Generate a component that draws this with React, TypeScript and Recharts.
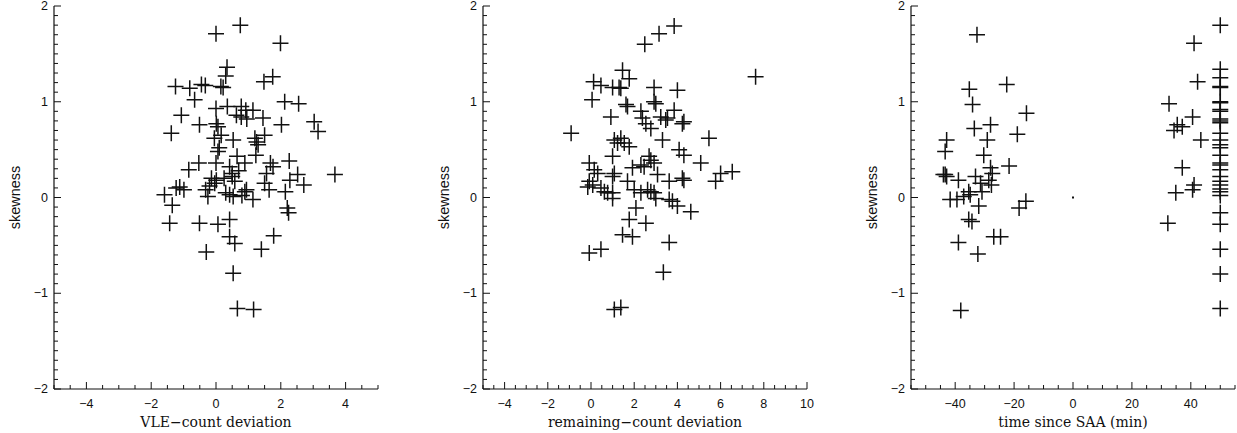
import { ScatterChart, Scatter, XAxis, YAxis } from 'recharts';

// skewness vs VLE-count deviation
const vlePoints: [number, number][] = [
  [0.75, 1.8], [0.0, 1.71], [1.99, 1.61], [0.34, 1.36], [0.3, 1.27], [1.75, 1.26], [1.48, 1.21],
  [-1.25, 1.16], [-0.81, 1.14], [-0.45, 1.18], [-0.33, 1.17], [0.15, 1.16], [0.22, 1.15],
  [-0.66, 1.02], [2.12, 1.0], [2.55, 0.98], [0.0, 0.93], [0.35, 0.95], [0.78, 0.95], [0.92, 0.91],
  [1.14, 0.91], [-1.07, 0.86], [0.63, 0.86], [0.78, 0.84], [1.45, 0.83], [3.03, 0.79], [3.15, 0.69],
  [2.02, 0.76], [-0.51, 0.76], [0.01, 0.77], [0.06, 0.74], [-1.38, 0.67], [0.16, 0.65], [0.53, 0.6],
  [1.5, 0.65], [1.25, 0.58], [1.3, 0.55], [0.06, 0.48], [1.23, 0.44], [0.65, 0.43], [0.89, 0.36],
  [1.68, 0.36], [1.76, 0.32], [2.26, 0.38], [0.0, 0.36], [-0.53, 0.36], [-0.84, 0.29], [0.42, 0.32],
  [3.67, 0.24], [2.52, 0.24], [2.71, 0.13], [2.28, 0.18], [1.56, 0.25], [1.5, 0.15], [-0.14, 0.2],
  [0.01, 0.18], [-0.04, 0.15], [0.5, 0.22], [0.58, 0.17], [-1.12, 0.11], [-0.99, 0.08], [-1.23, 0.1],
  [-1.59, 0.03], [-1.35, -0.08], [-0.32, 0.08], [-0.25, 0.01], [0.42, 0.03], [0.53, 0.01], [0.89, 0.06],
  [0.94, 0.08], [1.14, -0.02], [1.64, 0.08], [2.14, 0.06], [2.2, -0.11], [2.24, -0.16], [-1.43, -0.27],
  [-0.51, -0.27], [0.06, -0.28], [0.42, -0.23], [0.42, -0.41], [0.58, -0.48], [1.78, -0.4], [1.4, -0.54],
  [-0.3, -0.57], [0.53, -0.79], [0.66, -1.16], [1.16, -1.17], [0.3, 0.05], [0.1, 0.52], [0.8, 0.02],
  [1.2, 0.62], [0.5, 0.25], [-0.2, 0.12], [0.95, 0.82], [-0.05, 0.62], [0.7, 0.28], [0.25, 0.2],
];

// skewness vs remaining-count deviation
const remPoints: [number, number][] = [
  [3.85, 1.79], [3.15, 1.71], [2.49, 1.6], [1.46, 1.33], [1.77, 1.24], [0.12, 1.21], [0.46, 1.17],
  [1.0, 1.15], [1.3, 1.15], [1.38, 1.14], [2.92, 1.15], [4.0, 1.12], [0.05, 1.02], [2.92, 1.0],
  [3.0, 0.98], [1.62, 0.97], [1.69, 0.95], [2.31, 0.9], [3.85, 0.91], [0.92, 0.84], [2.38, 0.83],
  [2.54, 0.77], [3.23, 0.84], [3.54, 0.83], [3.46, 0.81], [4.23, 0.77], [4.3, 0.79], [2.77, 0.72],
  [-0.92, 0.67], [3.31, 0.6], [5.46, 0.62], [1.08, 0.6], [1.38, 0.62], [1.54, 0.57], [1.23, 0.57],
  [1.77, 0.53], [4.08, 0.5], [4.3, 0.44], [1.0, 0.43], [2.69, 0.43], [2.77, 0.39], [2.92, 0.36],
  [5.08, 0.36], [-0.08, 0.36], [2.31, 0.34], [2.46, 0.32], [1.92, 0.31], [0.15, 0.29], [0.31, 0.25],
  [6.54, 0.27], [6.0, 0.25], [5.77, 0.17], [1.08, 0.25], [1.0, 0.22], [4.23, 0.2], [4.3, 0.18],
  [3.62, 0.17], [3.08, 0.24], [1.69, 0.17], [-0.08, 0.17], [-0.15, 0.11], [0.08, 0.13], [0.46, 0.1],
  [0.62, 0.06], [0.77, 0.05], [1.0, 0.05], [2.62, 0.08], [2.77, 0.06], [2.92, 0.05], [2.0, 0.08],
  [2.31, 0.05], [3.0, -0.01], [3.62, -0.02], [3.77, -0.04], [1.0, -0.01], [4.0, -0.09], [2.08, -0.11],
  [4.62, -0.15], [1.77, -0.23], [2.54, -0.27], [1.46, -0.39], [1.92, -0.41], [3.62, -0.47],
  [-0.08, -0.58], [0.46, -0.54], [3.35, -0.78], [1.08, -1.17], [1.38, -1.15], [7.62, 1.26],
];

// skewness vs time since SAA (minutes); unknown times sit at 50
const saaPoints: [number, number][] = [
  [-32.6, 1.7], [-35.2, 1.13], [-34.1, 0.97], [-22.5, 1.18], [-15.8, 0.88], [-28.0, 0.76],
  [-33.5, 0.72], [-18.9, 0.66], [-42.9, 0.6], [-29.1, 0.6], [-43.4, 0.48], [-30.3, 0.44],
  [-21.7, 0.33], [-28.0, 0.31], [-27.4, 0.25], [-43.4, 0.24], [-44.0, 0.24], [-42.9, 0.22],
  [-38.9, 0.18], [-33.1, 0.22], [-31.4, 0.15], [-28.6, 0.18], [-27.7, 0.13], [-30.9, 0.06],
  [-35.4, 0.06], [-34.9, 0.03], [-41.7, -0.02], [-39.4, -0.02], [-37.1, 0.01], [-32.0, -0.09],
  [-18.3, -0.11], [-16.0, -0.04], [-35.4, -0.23], [-34.3, -0.25], [-26.9, -0.41], [-24.6, -0.41],
  [-38.9, -0.47], [-32.3, -0.59], [-38.1, -1.18],
  [41.1, 1.61], [42.3, 1.21], [32.6, 0.98], [40.6, 0.84], [34.3, 0.7], [35.4, 0.76], [37.1, 0.74],
  [43.4, 0.6], [37.1, 0.31], [34.9, 0.05], [41.1, 0.13], [40.6, 0.08], [32.2, -0.27],
  [50, 1.8], [50, 1.34], [50, 1.25], [50, 1.16], [50, 1.15], [50, 1.0], [50, 0.99], [50, 0.92],
  [50, 0.9], [50, 0.82], [50, 0.8], [50, 0.78], [50, 0.67], [50, 0.6], [50, 0.55], [50, 0.52],
  [50, 0.44], [50, 0.36], [50, 0.34], [50, 0.29], [50, 0.22], [50, 0.17], [50, 0.13], [50, 0.09],
  [50, 0.06], [50, 0.02], [50, -0.16], [50, -0.28], [50, -0.54], [50, -0.8], [50, -1.16],
];
const saaOrigin: [number, number][] = [[0, 0]];

const skewTicks = [-2, -1, 0, 1, 2];
const vleTicks = [-4, -2, 0, 2, 4];
const remTicks = [-4, -2, 0, 2, 4, 6, 8, 10];
const saaTicks = [-40, -20, 0, 20, 40];

const AXIS_W = 54;
const PLOT_W = 324;
const PLOT_H = 383;
const TOP = 6;
const RIGHT = 14;
const H = 433;
const INK = '#111';
const SANS = '"Liberation Sans", Arial, sans-serif';
const SERIF = '"DejaVu Serif", serif';

const fmt = (v: number) => (v < 0 ? '\u2212' + Math.abs(v) : String(v));

function minorTicks(lo: number, hi: number, step: number) {
  const out: number[] = [];
  const n = Math.round((hi - lo) / step);
  for (let i = 0; i <= n; i++) out.push(+(lo + i * step).toFixed(4));
  return out;
}

type Side = 'bottom' | 'top' | 'left' | 'right';

function tickFor(side: Side, majors: number[], showLabel: boolean) {
  return (props: any) => {
    const { x, y, payload } = props;
    const v = payload.value;
    const major = majors.some((m) => Math.abs(m - v) < 1e-6);
    const len = major ? 7 : 4;
    let line;
    if (side === 'bottom') line = <line x1={x} y1={y} x2={x} y2={y - len} />;
    else if (side === 'top') line = <line x1={x} y1={y} x2={x} y2={y + len} />;
    else if (side === 'left') line = <line x1={x} y1={y} x2={x + len} y2={y} />;
    else line = <line x1={x} y1={y} x2={x - len} y2={y} />;
    return (
      <g stroke={INK} strokeWidth={1}>
        {line}
        {showLabel && major && side === 'bottom' && (
          <text x={x} y={y + 15} textAnchor="middle" dominantBaseline="central" stroke="none" fill={INK} fontSize={12.5} fontFamily={SANS}>
            {fmt(v)}
          </text>
        )}
        {showLabel && major && side === 'left' && (
          <text x={x - 6} y={y} textAnchor="end" dominantBaseline="central" stroke="none" fill={INK} fontSize={12.5} fontFamily={SANS}>
            {fmt(v)}
          </text>
        )}
      </g>
    );
  };
}

const Cross = (props: any) => {
  const { cx, cy } = props;
  return <path d={`M${cx - 8},${cy}h16M${cx},${cy - 8}v16`} stroke={INK} strokeWidth={1.5} fill="none" />;
};

const Dot = (props: any) => {
  const { cx, cy } = props;
  return <rect x={cx - 1} y={cy - 1} width={2} height={2} fill={INK} />;
};

interface PanelProps {
  left: number;
  points: [number, number][];
  extra?: [number, number][];
  xDomain: [number, number];
  xMajors: number[];
  xStep: number;
  xLabel: string;
}

function Panel({ left, points, extra, xDomain, xMajors, xStep, xLabel }: PanelProps) {
  const data = points.map(([x, y]) => ({ x, y }));
  const xMinor = minorTicks(xDomain[0], xDomain[1], xStep);
  const yMinor = minorTicks(-2, 2, 0.1);
  const axisLine = { stroke: INK, strokeWidth: 1.2 };
  return (
    <div style={{ position: 'absolute', left, top: 0 }}>
      <ScatterChart width={AXIS_W + PLOT_W + RIGHT} height={H} margin={{ top: TOP, right: RIGHT, bottom: 0, left: 0 }}>
        <XAxis
          xAxisId="b"
          dataKey="x"
          type="number"
          domain={xDomain}
          allowDataOverflow
          ticks={xMinor}
          interval={0}
          tickSize={0}
          tickMargin={0}
          tick={tickFor('bottom', xMajors, true)}
          axisLine={axisLine}
          height={H - TOP - PLOT_H}
          label={{ value: xLabel, position: 'insideBottom', offset: 6, fill: INK, fontSize: 14, fontFamily: SERIF }}
        />
        <XAxis
          xAxisId="t"
          orientation="top"
          type="number"
          domain={xDomain}
          allowDataOverflow
          ticks={xMinor}
          interval={0}
          tickSize={0}
          tickMargin={0}
          tick={tickFor('top', xMajors, false)}
          axisLine={axisLine}
          height={0}
        />
        <YAxis
          yAxisId="l"
          dataKey="y"
          type="number"
          domain={[-2, 2]}
          allowDataOverflow
          ticks={yMinor}
          interval={0}
          tickSize={0}
          tickMargin={0}
          tick={tickFor('left', skewTicks, true)}
          axisLine={axisLine}
          width={AXIS_W}
          label={{ value: 'skewness', angle: -90, position: 'insideLeft', offset: 15, fill: INK, fontSize: 14.5, fontFamily: SANS, style: { textAnchor: 'middle' } }}
        />
        <YAxis
          yAxisId="r"
          orientation="right"
          type="number"
          domain={[-2, 2]}
          allowDataOverflow
          ticks={yMinor}
          interval={0}
          tickSize={0}
          tickMargin={0}
          tick={tickFor('right', skewTicks, false)}
          axisLine={axisLine}
          width={0}
        />
        <Scatter xAxisId="b" yAxisId="l" data={data} shape={<Cross />} isAnimationActive={false} />
        {extra && (
          <Scatter xAxisId="b" yAxisId="l" data={extra.map(([x, y]) => ({ x, y }))} shape={<Dot />} isAnimationActive={false} />
        )}
      </ScatterChart>
    </div>
  );
}

export default function App() {
  return (
    <div style={{ position: 'absolute', left: 0, top: 0, width: 1237, height: H, background: '#fff', overflow: 'hidden' }}>
      <Panel left={0} points={vlePoints} xDomain={[-5, 5]} xMajors={vleTicks} xStep={0.5} xLabel={'VLE\u2212count deviation'} />
      <Panel left={429} points={remPoints} xDomain={[-5, 10]} xMajors={remTicks} xStep={0.5} xLabel={'remaining\u2212count deviation'} />
      <Panel left={857} points={saaPoints} extra={saaOrigin} xDomain={[-55, 55]} xMajors={saaTicks} xStep={5} xLabel="time since SAA (min)" />
    </div>
  );
}
